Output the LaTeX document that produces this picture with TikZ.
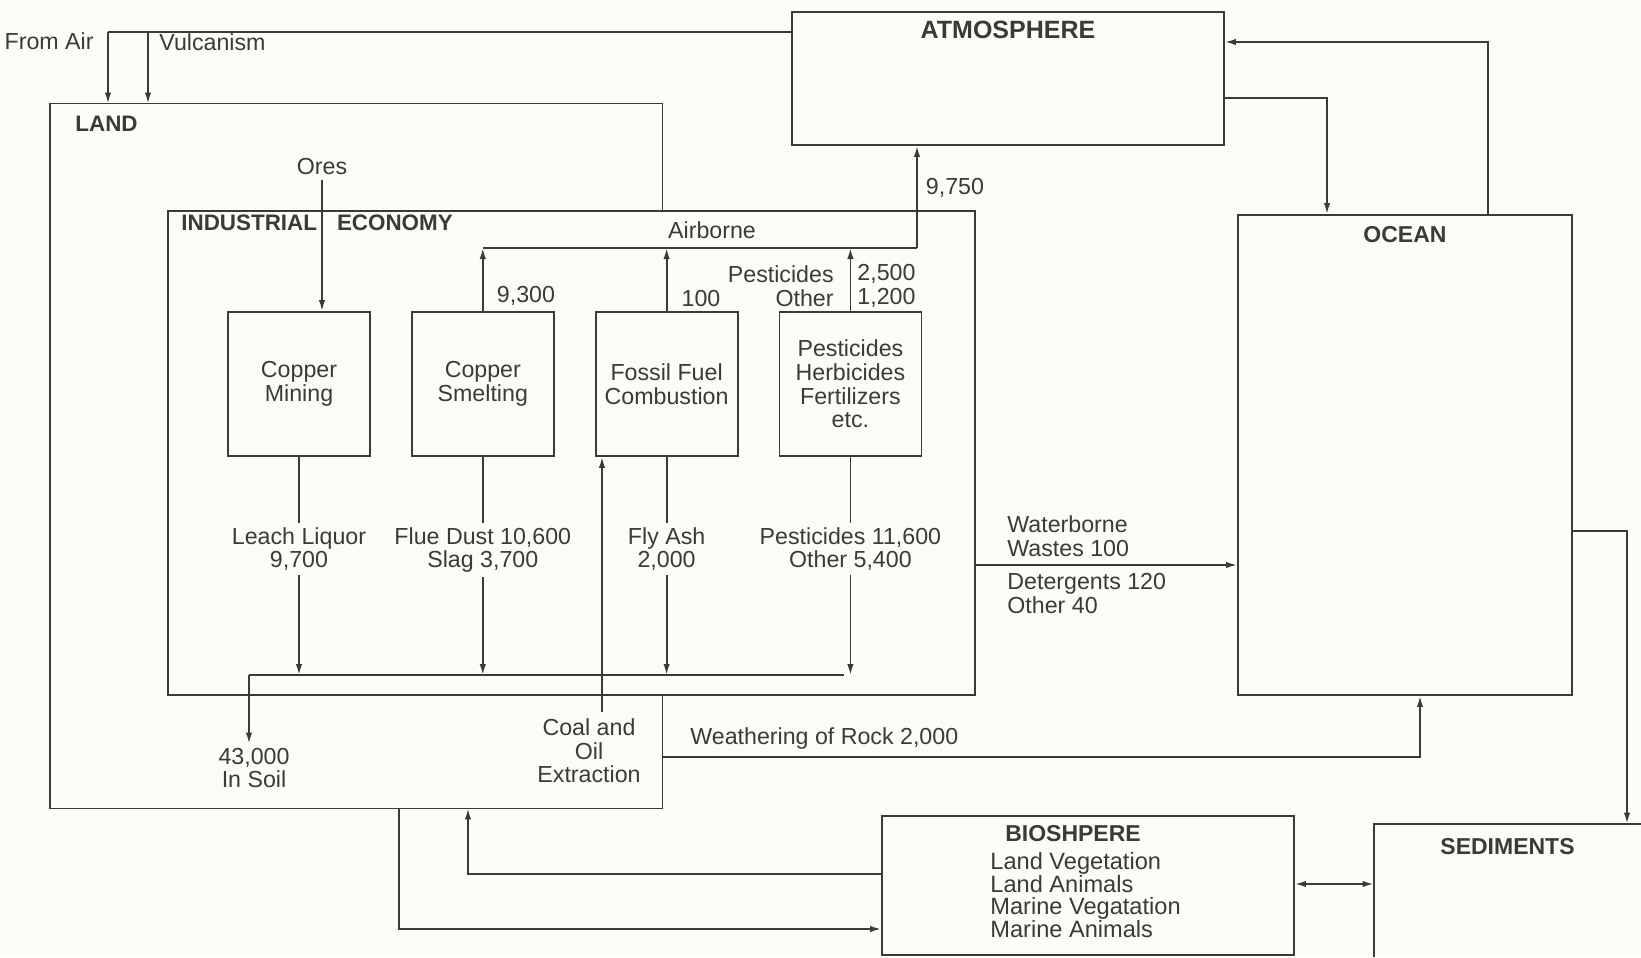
\documentclass[tikz,border=0pt]{standalone}
\usepackage{fontspec}
\setmainfont{Liberation Sans}
\usetikzlibrary{arrows.meta, positioning}
\definecolor{ink}{HTML}{3A3A3A}
\definecolor{paper}{HTML}{FCFCF7}

\begin{document}
\begin{tikzpicture}[
  x=0.5pt, y=-0.5pt,
  every node/.style={text=ink},
  line/.style={draw=ink, line width=0.9pt},
  arr/.style={line, -{Latex[length=5.5pt,width=3.2pt]}},
  darr/.style={line, {Latex[length=5.5pt,width=3.2pt]}-{Latex[length=5.5pt,width=3.2pt]}},
  proc/.style={rectangle, line, minimum width=71pt, minimum height=72pt, inner sep=0pt, align=center, font=\fontsize{11.6}{11.8}\selectfont},
  sphere/.style={rectangle, line, inner sep=0pt},
  boxtitle/.style={font=\bfseries\fontsize{11.5}{13}\selectfont, inner sep=0pt},
  lbl/.style={font=\fontsize{11.6}{11.8}\selectfont, align=center, inner sep=2pt},
  node distance=20pt,
]
  \fill[paper] (0,0) rectangle (1641,957);
  \useasboundingbox (0,0) rectangle (1641,957);

  % reservoirs
  \node[sphere, minimum width=216pt, minimum height=66.5pt] (atm) at (1008,78.5) {};
  \node[sphere, minimum width=167pt, minimum height=240pt] (ocean) at (1405,455) {};
  \node[sphere, minimum width=206pt, minimum height=69.5pt] (bio) at (1088,885.5) {};
  \node[minimum width=133.5pt, minimum height=66.5pt, inner sep=0pt] (sed) at (1507.5,890.5) {};
  \draw[line] (sed.north east) -- (sed.north west) -- (sed.south west);
  \node[minimum width=306pt, minimum height=352pt, inner sep=0pt] (land) at (356,456) {};
  \node[sphere, minimum width=403.5pt, minimum height=242pt] (ind) at (571.5,453) {};
  \draw[line] (land.east |- ind.north) -- (land.north east) -- (land.north west)
    -- (land.south west) -- (land.south east) -- (land.east |- ind.south);

  \node[boxtitle, font=\bfseries\fontsize{12.5}{14}\selectfont, below=5pt of atm.north] {ATMOSPHERE};
  \node[boxtitle, below=6pt of ocean.north] {OCEAN};
  \node[boxtitle, below=7pt of sed.north] {SEDIMENTS};
  \node[boxtitle] (biotitle) at (1073,834) {BIOSHPERE};
  \node[lbl, align=left, anchor=north west, inner sep=1pt, font=\fontsize{11.8}{11.3}\selectfont] (biolist) at (988,850)
    {Land Vegetation\\Land Animals\\Marine Vegatation\\Marine Animals};
  \node[boxtitle, font=\bfseries\fontsize{11.2}{13}\selectfont, anchor=west] (landtitle) at (75,124) {LAND};
  \node[boxtitle, font=\bfseries\fontsize{11.2}{13}\selectfont, anchor=west] (indtitle) at (181,223) {INDUSTRIAL\hspace{10pt}ECONOMY};

  % processes
  \node[proc] (mine) at (299,384) {Copper\\Mining};
  \node[proc, right=of mine] (smelt) {Copper\\Smelting};
  \node[proc, right=of smelt] (fossil) {Fossil Fuel\\Combustion};
  \node[proc, right=of fossil] (agri) {Pesticides\\Herbicides\\Fertilizers\\etc.};

  \node[lbl, below=33pt of mine] (leach) {Leach Liquor\\9,700};
  \node[lbl, below=33pt of smelt] (flue) {Flue Dust 10,600\\Slag 3,700};
  \node[lbl, below=33pt of fossil] (flyash) {Fly Ash\\2,000};
  \node[lbl, below=33pt of agri] (pestdown) {Pesticides 11,600\\Other 5,400};

  \node[lbl] (ores) at (322,167) {Ores};
  \node[lbl] (airb) at (712,230) {Airborne};
  \node[lbl] (l9300) at (526,296) {9,300};
  \node[lbl] (l100) at (701,299) {100};
  \node[lbl, align=right, anchor=east] (pestup) at (838,286) {Pesticides\\Other};
  \node[lbl, align=left, anchor=west] (pestupv) at (853,286) {2,500\\1,200};
  \node[lbl] (l9750) at (955,188) {9,750};
  \node[lbl] (soil) at (254,768) {43,000\\In Soil};
  \node[lbl] (coal) at (589,751) {Coal and\\Oil\\Extraction};
  \node[lbl, anchor=east] (fromair) at (98,41) {From Air};
  \node[lbl, anchor=west] (vulc) at (155,42) {Vulcanism};
  \node[lbl, align=left, anchor=south west] (waterb) at (1003,561) {Waterborne\\Wastes 100};
  \node[lbl, align=left, anchor=north west] (deterg) at (1003,569) {Detergents 120\\Other 40};
  \node[lbl, anchor=base west] (weath) at (686,744) {Weathering of Rock 2,000};

  % inputs to land
  \coordinate (fa) at (108,32);
  \coordinate (vu) at (148,32);
  \draw[line] (atm.west |- fa) -- (fa);
  \draw[arr] (fa) -- (fa |- land.north);
  \draw[arr] (vu) -- (vu |- land.north);
  \draw[arr] (ores) -- (ores |- mine.north);

  % airborne emissions
  \coordinate (airR) at (917,248);
  \draw[arr] (smelt.north) -- (smelt.north |- airR);
  \draw[line] (smelt.north |- airR) -- (airR);
  \draw[arr] (fossil.north) -- (fossil.north |- airR);
  \draw[arr] (agri.north) -- (agri.north |- airR);
  \draw[arr] (airR) -- (airR |- atm.south);

  % losses to soil
  \coordinate (colL) at (249,675);
  \coordinate (colR) at (844,675);
  \foreach \src/\lab in {mine/leach, smelt/flue, fossil/flyash, agri/pestdown} {
    \draw[line] (\src) -- (\lab);
    \draw[arr] (\lab.south) -- (\lab.south |- colL);
  }
  \draw[line] (colL) -- (colR);
  \draw[arr] (colL) -- (colL |- soil.north);
  \coordinate (cx) at (602,712);
  \draw[arr] (cx) -- (cx |- fossil.south);

  % exchanges between reservoirs
  \coordinate (ao) at (1327,98);
  \draw[arr] (atm.east |- ao) -- (ao) -- (ao |- ocean.north);
  \coordinate (oa) at (1488,42);
  \draw[arr] (oa |- ocean.north) -- (oa) -- (atm.east |- oa);
  \coordinate (wb) at (1100,565);
  \draw[arr] (ind.east |- wb) -- (ocean.west |- wb);
  \coordinate (wr) at (1420,757);
  \draw[arr] (land.east |- wr) -- (wr) -- (wr |- ocean.south);
  \coordinate (os) at (1627,531);
  \draw[arr] (ocean.east |- os) -- (os) -- (os |- sed.north);
  \coordinate (bs) at (1334,884);
  \draw[darr] (bio.east |- bs) -- (sed.west |- bs);
  \coordinate (bl) at (468,874);
  \draw[arr] (bio.west |- bl) -- (bl) -- (bl |- land.south);
  \coordinate (lb) at (399,929);
  \draw[arr] (lb |- land.south) -- (lb) -- (bio.west |- lb);
\end{tikzpicture}
\end{document}
